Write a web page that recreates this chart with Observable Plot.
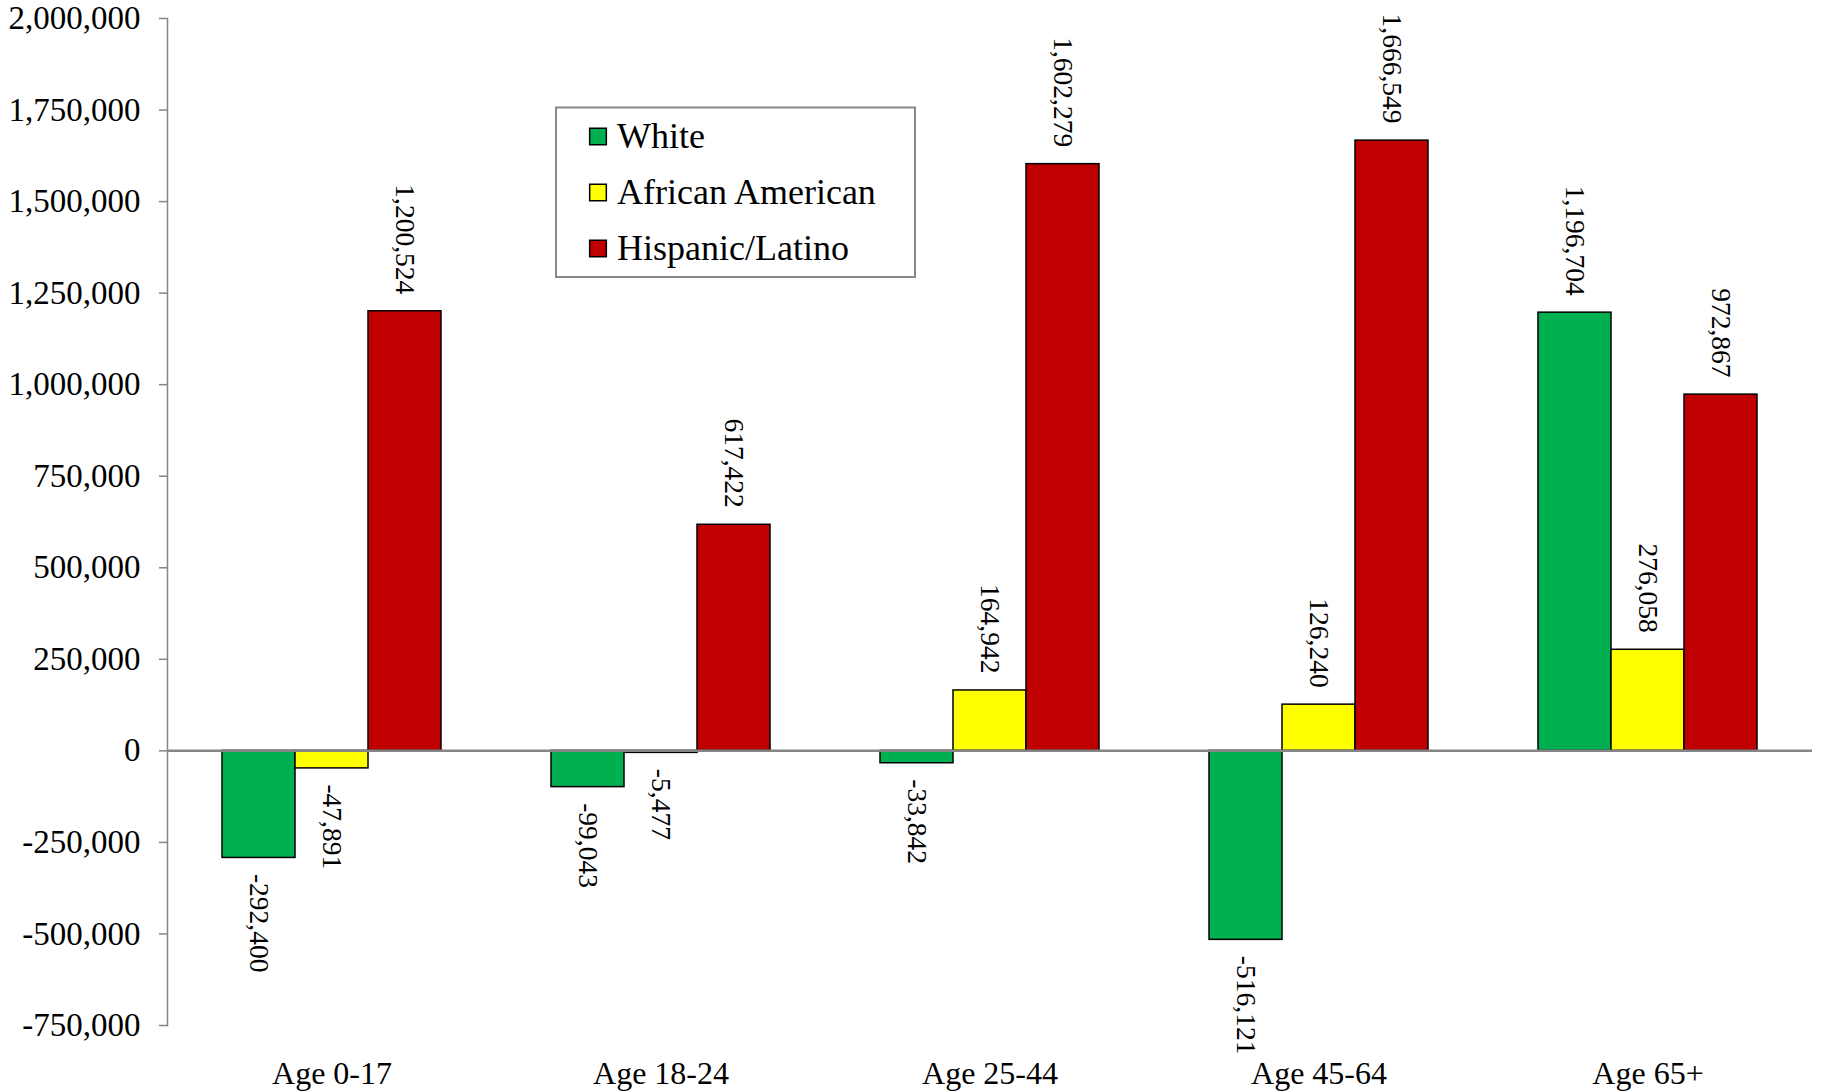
<!DOCTYPE html>
<html><head><meta charset="utf-8">
<script src="https://cdn.jsdelivr.net/npm/d3@7"></script>
<script src="https://cdn.jsdelivr.net/npm/@observablehq/plot@0.6"></script>
<style>
body{margin:0;background:#fff;}
#wrap{position:relative;width:1823px;height:1092px;}
#legend{position:absolute;left:554px;top:104px;}
</style></head><body><div id="wrap"></div>
<script>
const categories = ["Age 0-17", "Age 18-24", "Age 25-44", "Age 45-64", "Age 65+"];
const series = ["White", "African American", "Hispanic/Latino"];
const white = [-292400, -99043, -33842, -516121, 1196704];
const africanAmerican = [-47891, -5477, 164942, 126240, 276058];
const hispanicLatino = [1200524, 617422, 1602279, 1666549, 972867];
const colors = ["#00B050", "#FFFF00", "#C00000"];
const yTicks = [-750000, -500000, -250000, 0, 250000, 500000, 750000, 1000000, 1250000, 1500000, 1750000, 2000000];

const seriesValues = [white, africanAmerican, hispanicLatino];
const rows = [];
categories.forEach((c, i) => series.forEach((s, j) => rows.push({category: c, series: s, value: seriesValues[j][i]})));
const fmt = d => d.toLocaleString("en-US");
const serif = "'Liberation Serif', 'Times New Roman', serif";

const chart = Plot.plot({
  width: 1823, height: 1092,
  marginLeft: 165, marginRight: 10, marginTop: 18, marginBottom: 67,
  style: {fontFamily: serif, fontSize: "31px", color: "#000", background: "#fff"},
  fx: {domain: categories, padding: 0, label: null},
  x: {domain: series, paddingInner: 0, paddingOuter: 0.75, axis: null},
  y: {domain: [-750000, 2000000], label: null},
  color: {domain: series, range: colors},
  marks: [
    Plot.axisY({ticks: yTicks, tickFormat: fmt, tickSize: 8, tickPadding: 19, stroke: "#868686", strokeWidth: 1.5, fill: "#000", fontSize: 33, fontFamily: serif, label: null}),
    Plot.frame({anchor: "left", facetAnchor: "left", stroke: "#868686", strokeWidth: 1.5}),
    Plot.barY(rows, {fx: "category", x: "series", y: "value", fill: "series", stroke: "#000", strokeWidth: 1.5}),
    Plot.ruleY([0], {stroke: "#868686", strokeWidth: 2.5}),
    Plot.text(rows.filter(d => d.value >= 0), {fx: "category", x: "series", y: "value", text: d => fmt(d.value), rotate: 90, textAnchor: "end", dy: -17, fontSize: 27.5, fontFamily: serif, fill: "#000"}),
    Plot.text(rows.filter(d => d.value < 0), {fx: "category", x: "series", y: "value", text: d => fmt(d.value), rotate: 90, textAnchor: "start", dy: 16, fontSize: 27.5, fontFamily: serif, fill: "#000"}),
    Plot.axisFx({anchor: "bottom", tickSize: 0, tickPadding: 36, fontSize: 32, fontFamily: serif, label: null, fill: "#000"})
  ]
});
const wrap = document.getElementById("wrap");
wrap.appendChild(chart);

const legend = Plot.plot({
  width: 362, height: 174,
  margin: 1.5, marginTop: 3,
  style: {fontFamily: serif, fontSize: "36px", color: "#000", background: "transparent"},
  y: {type: "point", domain: series, padding: 0.5, axis: null},
  color: {domain: series, range: colors},
  marks: [
    Plot.frame({stroke: "#888", strokeWidth: 2, fill: "#fff"}),
    Plot.dot(series, {y: d => d, frameAnchor: "left", dx: 42, symbol: "square", r: 9.4, fill: d => d, stroke: "#000", strokeWidth: 1.5}),
    Plot.text(series, {y: d => d, text: d => d, frameAnchor: "left", dx: 61, textAnchor: "start", fontSize: 36, fontFamily: serif, fill: "#000"})
  ]
});
legend.id = "legend";
wrap.appendChild(legend);
</script></body></html>
